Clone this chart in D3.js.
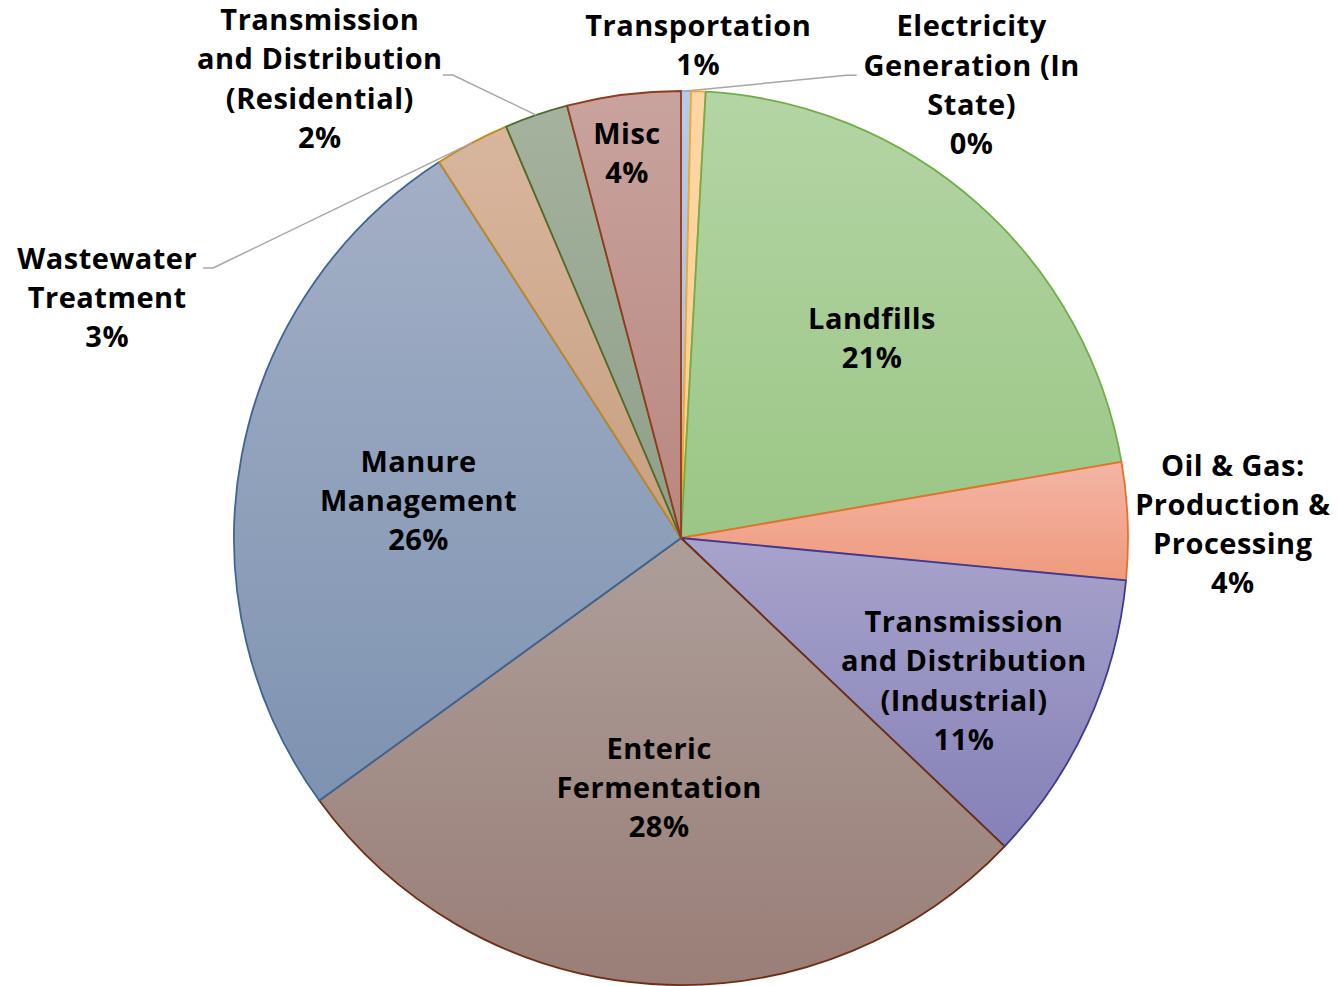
<!DOCTYPE html>
<html>
<head>
<meta charset="utf-8">
<script src="https://cdn.jsdelivr.net/npm/d3@7"></script>
<style>
  body { margin: 0; background: #fff; }
  svg text { font-family: "Open Sans", sans-serif; font-weight: 700; fill: #000; letter-spacing: 0.5px; }
</style>
</head>
<body>
<div id="chart"></div>
<script>
const w = 1337;
const h = 986;

// data (share of emissions, %)
const categories = ["Electricity Generation (In State)", "Transportation", "Landfills",
  "Oil & Gas: Production & Processing", "Transmission and Distribution (Industrial)",
  "Enteric Fermentation", "Manure Management", "Wastewater Treatment",
  "Transmission and Distribution (Residential)", "Misc"];
const values = [0.36, 0.52, 21.4, 4.24, 10.6, 27.9, 25.9, 2.7, 2.3, 4.1];

// how each label is broken into lines
const labelLines = [
  ["Electricity", "Generation (In", "State)"],
  ["Transportation"],
  ["Landfills"],
  ["Oil & Gas:", "Production &", "Processing"],
  ["Transmission", "and Distribution", "(Industrial)"],
  ["Enteric", "Fermentation"],
  ["Manure", "Management"],
  ["Wastewater", "Treatment"],
  ["Transmission", "and Distribution", "(Residential)"],
  ["Misc"]
];

// styling: gradient top, gradient bottom, outline
const topColors = ["#b7cbe8", "#fdd6a6", "#b4d5a4", "#f3b5a5", "#a7a3cb", "#ad9e9a", "#a3afc6", "#d8b69e", "#a4b29e", "#c9a39e"];
const bottomColors = ["#a6bfe0", "#fccd94", "#9bc686", "#ef9a7d", "#8580b7", "#9a7e77", "#7e93b1", "#c89f80", "#8f9f88", "#b8877f"];
const strokes = ["#8eb4e3", "#f7a823", "#70ad47", "#e8702a", "#3d3a96", "#6e2d14", "#3d6696", "#c08a1c", "#4f6b2c", "#94391c"];

// label placement, polar (degrees clockwise from top, radius px)
const labelAngle = [32.7, 2.0, 43.8, 88.6, 116.8, 185.0, 278.0, 292.7, 321.8, 352.0];
const labelRadius = [538, 493, 276, 552, 317, 251, 265, 622, 584, 388];
// leader line start relative to label centre (null = no leader)
const leaderStart = [[-115, -10], null, null, null, null, null, null, [96, -30], [123, -4], null];

const cx = 681, cy = 538, r = 447;
const lineH = 39.3;

const svg = d3.select("#chart").append("svg")
  .attr("width", w)
  .attr("height", h);

const defs = svg.append("defs");
categories.forEach((c, i) => {
  const g = defs.append("linearGradient")
    .attr("id", "grad" + i)
    .attr("x1", 0).attr("y1", 0).attr("x2", 0).attr("y2", 1);
  g.append("stop").attr("offset", "0%").attr("stop-color", topColors[i]);
  g.append("stop").attr("offset", "100%").attr("stop-color", bottomColors[i]);
});

const pie = d3.pie().sort(null).value(d => d)(values);
const arc = d3.arc().innerRadius(0).outerRadius(r);
const total = d3.sum(values);

const root = svg.append("g").attr("transform", `translate(${cx},${cy})`);

root.selectAll("path.slice")
  .data(pie)
  .enter()
  .append("path")
  .attr("class", "slice")
  .attr("d", arc)
  .attr("fill", (d, i) => `url(#grad${i})`)
  .attr("stroke", (d, i) => strokes[i])
  .attr("stroke-width", 1.8)
  .attr("stroke-linejoin", "round");

const polar = (deg, rad) => {
  const a = deg * Math.PI / 180;
  return [rad * Math.sin(a), -rad * Math.cos(a)];
};

// leader lines
pie.forEach((d, i) => {
  if (!leaderStart[i]) return;
  const [lx, ly] = polar(labelAngle[i], labelRadius[i]);
  const sx = lx + leaderStart[i][0], sy = ly + leaderStart[i][1];
  const mid = (d.startAngle + d.endAngle) / 2;
  const ex = r * Math.sin(mid), ey = -r * Math.cos(mid);
  const hx = sx + (ex < sx ? -10 : 10);
  root.append("path")
    .attr("d", d3.line()([[sx, sy], [hx, sy], [ex, ey]]))
    .attr("fill", "none")
    .attr("stroke", "#a6a6a6")
    .attr("stroke-width", 1.5);
});

// labels
pie.forEach((d, i) => {
  const lines = labelLines[i].concat([Math.round(values[i] / total * 100) + "%"]);
  const [lx, ly] = polar(labelAngle[i], labelRadius[i]);
  const t = root.append("text")
    .attr("text-anchor", "middle")
    .attr("font-size", 29);
  const top = ly - (lines.length - 1) * lineH / 2;
  lines.forEach((s, k) => {
    t.append("tspan")
      .attr("x", lx)
      .attr("y", top + k * lineH + 10)
      .text(s);
  });
});
</script>
</body>
</html>
